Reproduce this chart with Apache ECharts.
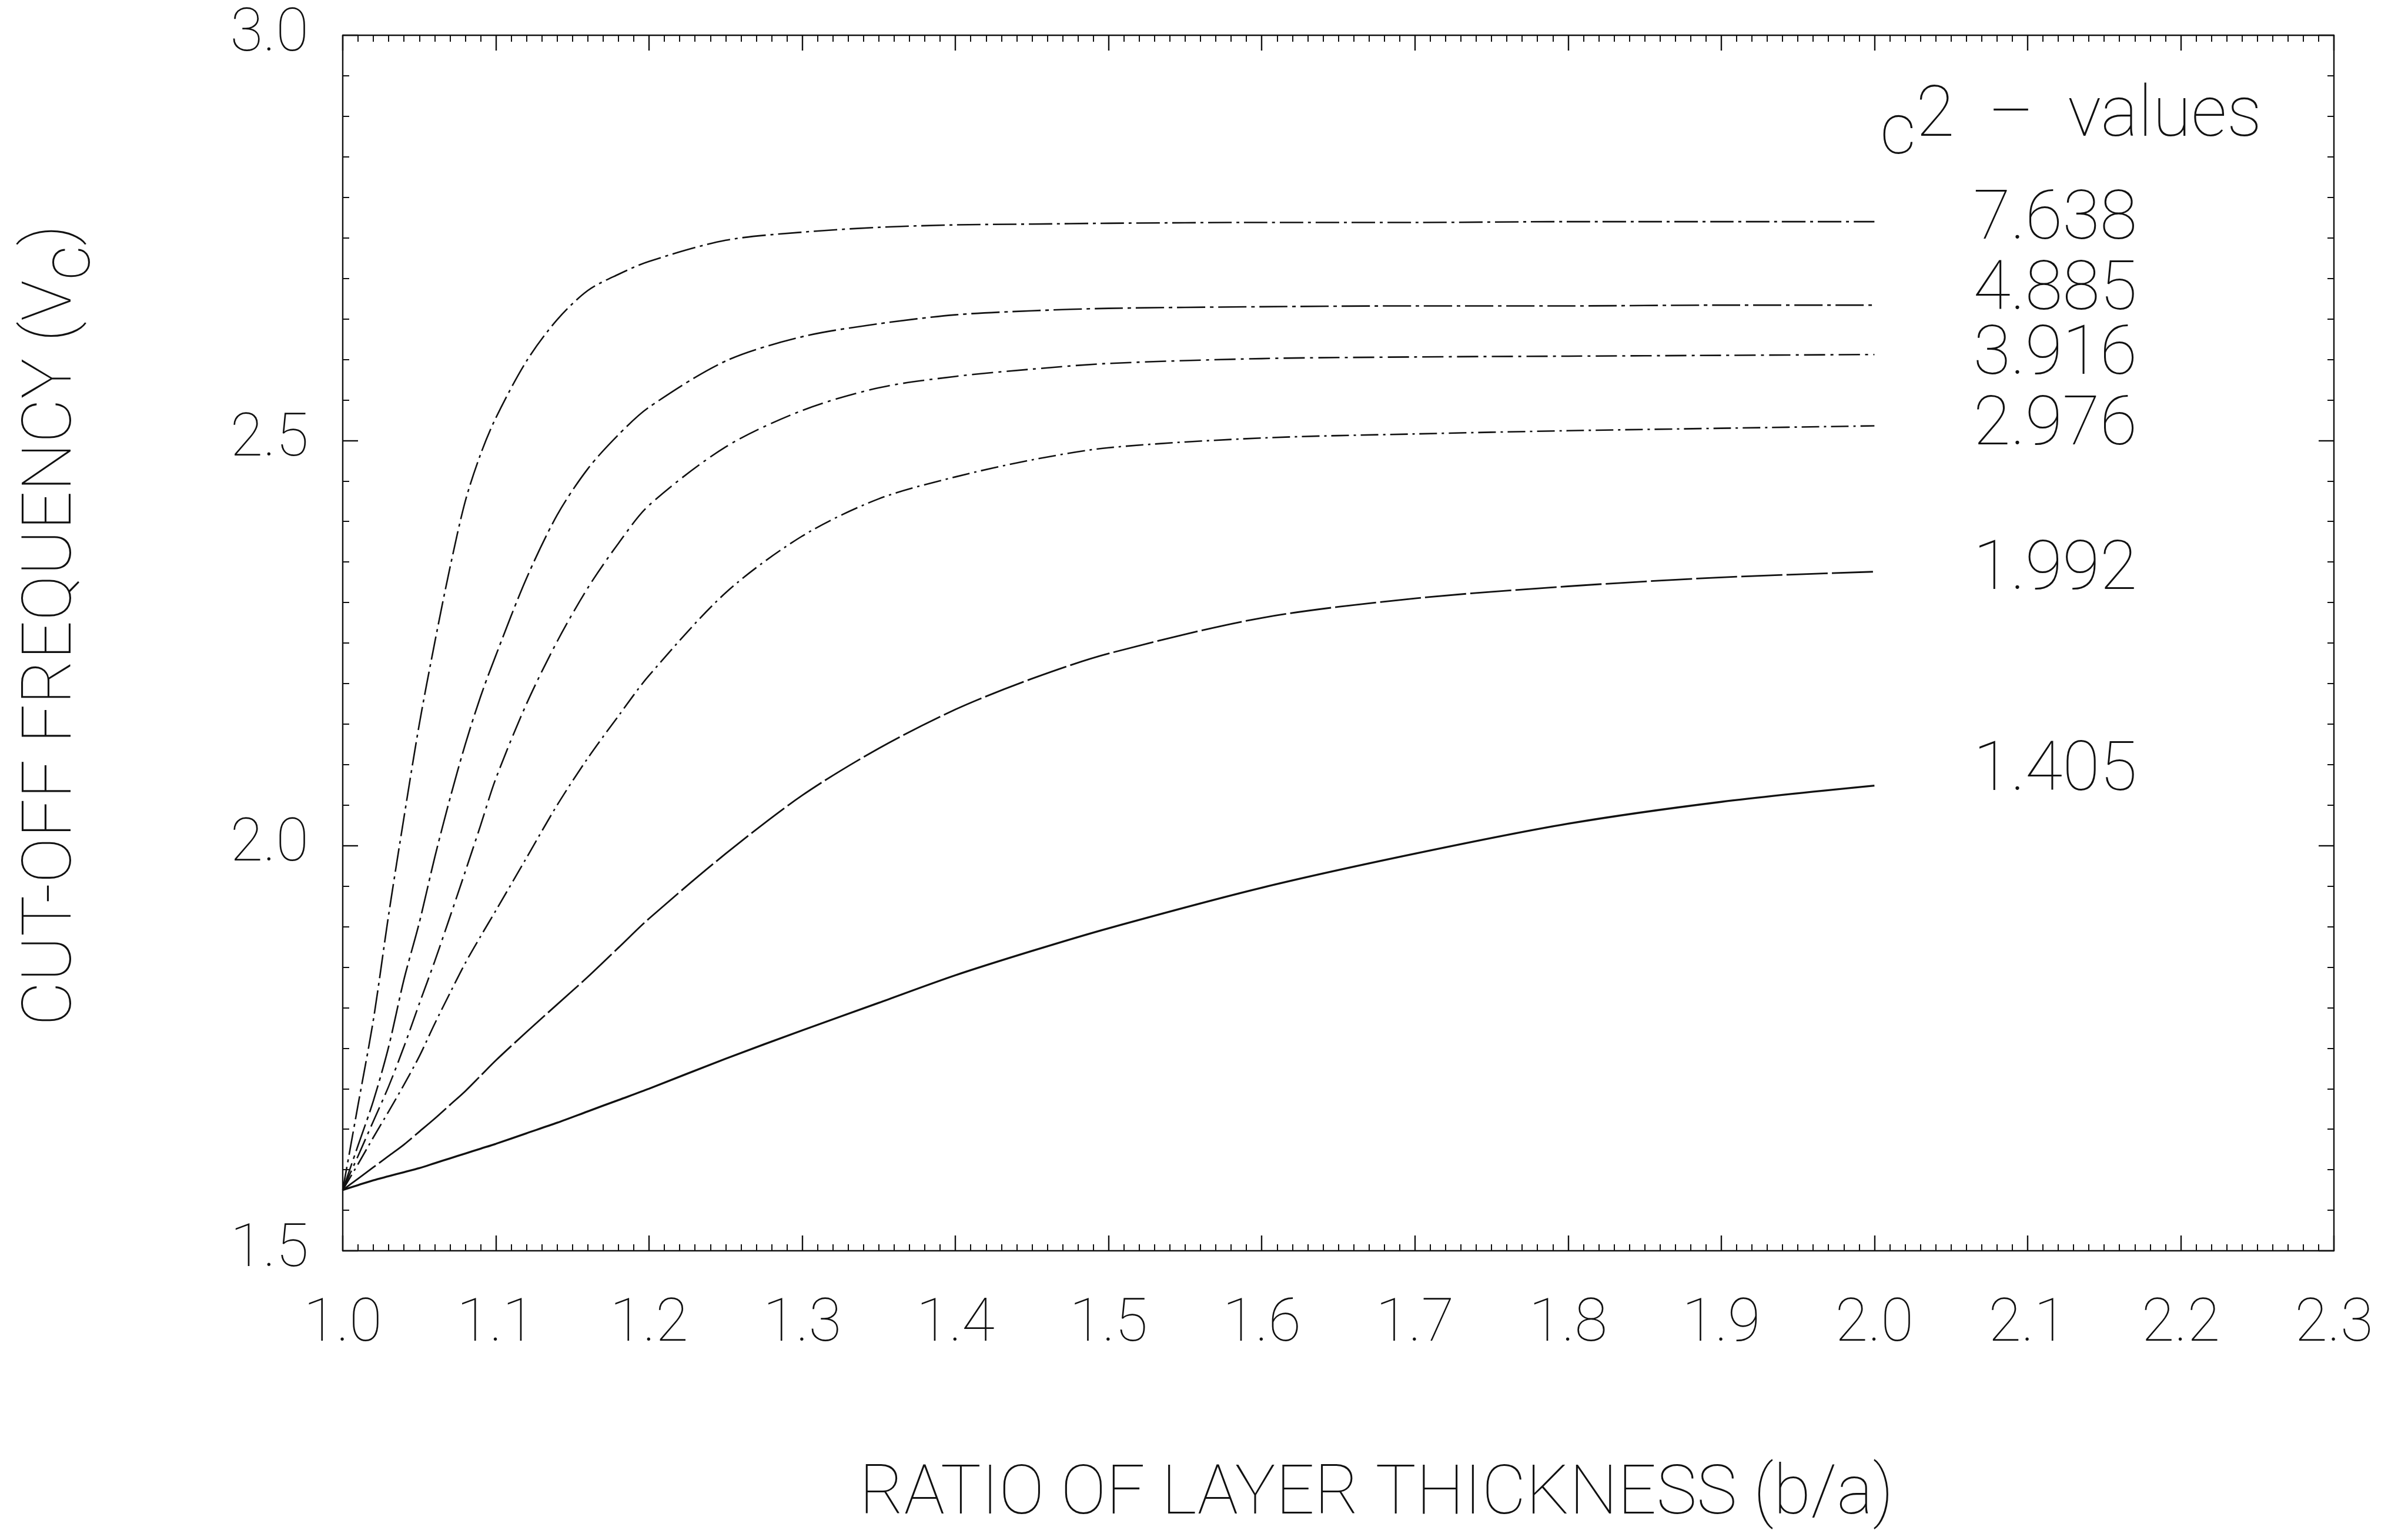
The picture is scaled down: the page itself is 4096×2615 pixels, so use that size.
<!DOCTYPE html>
<html>
<head>
<meta charset="utf-8">
<script src="https://cdn.jsdelivr.net/npm/echarts@6/dist/echarts.min.js"></script>
<style>
html,body{margin:0;padding:0;background:#ffffff;}
#chart{width:4096px;height:2615px;}
</style>
</head>
<body>
<div id="chart"></div>
<script>
// ---- data ----
const ratio = [1.00,1.01,1.02,1.03,1.04,1.05,1.06,1.07,1.08,1.09,1.10,1.12,1.14,1.16,1.18,1.20,1.25,1.30,1.35,1.40,1.45,1.50,1.60,1.70,1.80,1.90,2.00];
const c2Names = ['7.638','4.885','3.916','2.976','1.992','1.405'];
const f7638 = [1.575,1.68,1.785,1.915,2.035,2.15,2.25,2.343,2.425,2.483,2.528,2.598,2.649,2.685,2.705,2.721,2.747,2.757,2.763,2.766,2.767,2.768,2.769,2.769,2.77,2.77,2.77];
const f4885 = [1.575,1.63,1.685,1.752,1.835,1.905,1.985,2.058,2.125,2.184,2.235,2.33,2.408,2.465,2.507,2.541,2.598,2.628,2.644,2.655,2.66,2.663,2.665,2.666,2.666,2.667,2.667];
const f3916 = [1.575,1.617,1.66,1.703,1.752,1.805,1.857,1.912,1.968,2.025,2.083,2.175,2.252,2.318,2.373,2.42,2.492,2.537,2.565,2.579,2.588,2.595,2.601,2.603,2.604,2.605,2.606];
const f2976 = [1.575,1.607,1.64,1.672,1.705,1.74,1.78,1.818,1.855,1.888,1.92,1.985,2.05,2.108,2.16,2.21,2.312,2.382,2.428,2.455,2.476,2.491,2.503,2.508,2.512,2.515,2.518];
const f1992 = [1.575,1.589,1.603,1.617,1.631,1.647,1.663,1.68,1.697,1.716,1.735,1.77,1.804,1.838,1.874,1.91,1.99,2.062,2.12,2.168,2.206,2.237,2.281,2.305,2.32,2.331,2.338];
const f1405 = [1.575,1.581,1.587,1.592,1.597,1.602,1.608,1.614,1.62,1.626,1.632,1.645,1.658,1.672,1.686,1.70,1.737,1.772,1.806,1.84,1.87,1.898,1.948,1.99,2.027,2.054,2.074];
const curves = [f7638,f4885,f3916,f2976,f1992,f1405];
const xRange = [1.0, 2.3];
const yRange = [1.5, 3.0];
const xTitle = 'RATIO OF LAYER THICKNESS (b/a)';
const yTitleMain = 'CUT-OFF FREQUENCY (V';
const yTitleSub = 'c';
const legendTitle = ['c', '2', '  \u2013  values'];

// ---- styling ----
const FONT = 'Roboto, "DejaVu Sans", sans-serif';
const FW = 100;
const INK = '#111';
const dashes = [[40,8,5,8],[48,8,6,8],[36,9,5,9],[30,8,4,8],[70,7],'solid'];
const widths = [2.6,2.6,2.6,2.6,2.8,3.4];
const labelOffsets = [[0,0],[0,-22],[0,4],[0,2],[0,0],[0,-22]];

const chart = echarts.init(document.getElementById('chart'), null, {renderer:'canvas'});

function axisCommon(pos, showLabels, isX){
  return {
    type:'value',
    position: pos,
    min: isX ? xRange[0] : yRange[0],
    max: isX ? xRange[1] : yRange[1],
    interval: isX ? 0.1 : 0.5,
    axisLine:{show:true,onZero:false,lineStyle:{color:INK,width:2.4}},
    axisTick:{show:true,inside:true,length:26,lineStyle:{color:INK,width:2.4}},
    minorTick:{show:true,splitNumber:10,length:11,lineStyle:{color:INK,width:2}},
    splitLine:{show:false},
    minorSplitLine:{show:false},
    axisLabel:{
      show: showLabels,
      inside:false,
      margin: isX ? 76 : 58,
      fontFamily: FONT, fontWeight: FW, fontSize: 102, color: INK,
      formatter: v => v.toFixed(1)
    }
  };
}

const xBottom = Object.assign(axisCommon('bottom', true, true), {
  name: xTitle,
  nameLocation:'middle',
  nameGap: 358,
  nameTextStyle:{fontFamily:FONT,fontWeight:FW,fontSize:116,color:INK,lineHeight:120,padding:[0,0,0,130]}
});
const xTop = axisCommon('top', false, true);
const yLeft = Object.assign(axisCommon('left', true, false), {
  name: '{n|' + yTitleMain + '}{s|' + yTitleSub + '}{n|)}',
  nameLocation:'middle',
  nameGap: 402,
  nameTextStyle:{
    fontFamily:FONT,fontWeight:FW,fontSize:116,color:INK,padding:[0,0,0,60],
    rich:{
      n:{fontFamily:FONT,fontWeight:FW,fontSize:116,color:INK,lineHeight:180,verticalAlign:'middle'},
      s:{fontFamily:FONT,fontWeight:FW,fontSize:116,color:INK,lineHeight:120,verticalAlign:'bottom'}
    }
  }
});
const yRight = axisCommon('right', false, false);

const series = curves.map((ys, k) => ({
  name: c2Names[k],
  type:'line',
  xAxisIndex:0, yAxisIndex:0,
  data: ratio.map((x,i) => [x, ys[i]]),
  showSymbol:false,
  smooth:0.3,
  lineStyle:{color:INK,width:widths[k],type:dashes[k]},
  emphasis:{disabled:true},
  endLabel:{
    show:true,
    formatter: p => p.seriesName,
    distance:168,
    offset: labelOffsets[k],
    fontFamily:FONT,fontWeight:FW,fontSize:116,color:INK
  }
}));

chart.setOption({
  backgroundColor:'#ffffff',
  animation:false,
  grid:{left:583,right:126,top:60,bottom:487,containLabel:false},
  title:{
    text:'{c|' + legendTitle[0] + '}{t|' + legendTitle[1] + legendTitle[2] + '}',
    left:3198, top:111, padding:0,
    textStyle:{
      fontFamily:FONT,fontWeight:FW,fontSize:120,color:INK,
      rich:{
        c:{fontFamily:FONT,fontWeight:FW,fontSize:120,color:INK,lineHeight:120,verticalAlign:'bottom'},
        t:{fontFamily:FONT,fontWeight:FW,fontSize:120,color:INK,lineHeight:180,verticalAlign:'middle'}
      }
    }
  },
  xAxis:[xBottom, xTop],
  yAxis:[yLeft, yRight],
  series: series
});
</script>
</body>
</html>
